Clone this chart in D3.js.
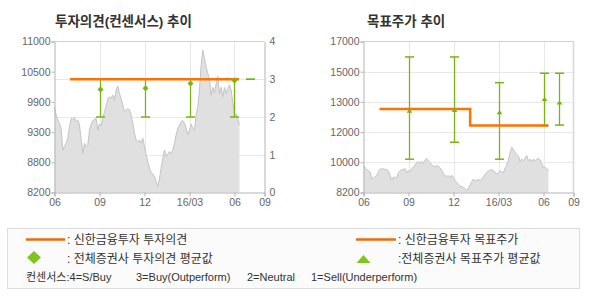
<!DOCTYPE html>
<html>
<head>
<meta charset="utf-8">
<script src="https://cdn.jsdelivr.net/npm/d3@7"></script>
<style>
  html, body { margin: 0; padding: 0; background: #fff; }
  svg { display: block; }
  text { font-family: "Liberation Sans", "Noto Sans CJK KR", sans-serif; }
</style>
</head>
<body>
<svg id="chart" width="590" height="300"></svg>
<script>
// ---------------- DATA ----------------
// x positions are expressed in months since 2015-06
const xTickValues = [0, 3, 6, 9, 12, 14];
const xTickLabels = ["06", "09", "12", "16/03", "06", "09"];

const leftPriceTicks = [8200, 8760, 9320, 9880, 10440, 11000];
const leftPriceLabels = ["8200", "8800", "9300", "9900", "10500", "11000"];
const opinionTicks = [0, 1, 2, 3, 4];
const opinionLabels = ["0", "1", "2", "3", "4"];

const rightPriceTicks = [8200, 9960, 11720, 13480, 15240, 17000];
const rightPriceLabels = ["8200", "10000", "12000", "13000", "15000", "17000"];

// daily-ish closing price (sampled evenly from month 0 to priceEndMonth)
const priceEndMonth = 12.33;
const prices = [
  9780, 9640, 9544, 9483, 9390, 8989, 9051, 9113, 9205, 9421,
  9575, 9557, 9594, 9514, 9544, 9452, 9174, 8928, 9113, 9051,
  9082, 9359, 9470, 9532, 9557, 9575, 9359, 9470, 9433, 9575,
  9699, 9803, 9945, 9976, 9945, 10007, 9914, 10099, 10173, 10038,
  9945, 9822, 9699, 9729, 9760, 9729, 9637, 9483, 9298, 9174,
  9144, 9174, 9113, 9205, 9051, 8897, 8774, 8650, 8558, 8545,
  8496, 8404, 8311, 8465, 8650, 8835, 8989, 8866, 8915, 8959,
  8915, 8989, 9113, 9267, 9390, 9452, 9514, 9532, 9483, 9390,
  9267, 9359, 9470, 9390, 9359, 9637, 9791, 10099, 10562, 10839,
  10685, 10531, 10408, 10315, 10007, 10149, 10050, 10210, 10358, 10038,
  10149, 9976, 10149, 10038, 10130, 10192, 10099, 9884, 9637, 9655,
  9575, 9452
];

// 신한금융투자 투자의견 (step line)
const shinhanOpinionMonths = [1.04, 12.29];
const shinhanOpinionValues = [3, 3];

// 신한금융투자 목표주가 (step line)
const shinhanTargetMonths = [1.07, 7.11, 12.29];
const shinhanTargetValues = [13060, 12100, 12100];

// 전체증권사 consensus
const consensusMonths = [3, 6, 9, 12, 13];
const opinionMin = [2, 2, 2, 2, 3];
const opinionMax = [3, 3, 3, 3, 3];
const opinionAvg = [2.73, 2.76, 2.89, 2.97, null];

const targetMin = [10140, 11130, 10140, 12100, 12130];
const targetMax = [16100, 16100, 14600, 15150, 15150];
const targetAvg = [12970, 13010, 12870, 13650, 13450];

// ---------------- STYLE ----------------
const ORANGE = "#ff7200";
const ORANGE_LEG = "#ec6c0c";
const GREEN = "#78b414";
const GREEN_LEG = "#80c41c";
const GRID = "#e8e8e8";
const AXIS = "#b4b4b4";
const LABEL = "#666";

const svg = d3.select("#chart");

// marker path builders (shapes only, positions come from scales)
function diamondPath(w, h) {
  return d3.line()([[0, -h / 2], [w / 2, 0], [0, h / 2], [-w / 2, 0]]) + "Z";
}
function trianglePath(w, h) {
  return d3.line()([[0, -h / 2], [w / 2, h / 2], [-w / 2, h / 2]]) + "Z";
}

function drawPanel(cfg) {
  const { x0, x1, y0, y1 } = cfg;
  const g = svg.append("g");
  const x = d3.scaleLinear().domain([0, 14]).range([x0, x1]);
  const yP = d3.scaleLinear().domain([cfg.priceTicks[0], cfg.priceTicks[cfg.priceTicks.length - 1]]).range([y1, y0]);

  // vertical gridlines
  g.append("g").selectAll("line")
    .data(xTickValues.filter(v => v > 0 && v < 14))
    .join("line")
    .attr("x1", d => Math.round(x(d)) + 0.5).attr("x2", d => Math.round(x(d)) + 0.5)
    .attr("y1", y0).attr("y2", y1)
    .attr("stroke", GRID).attr("stroke-width", 1);

  // horizontal gridlines
  g.append("g").selectAll("line")
    .data(cfg.gridValues)
    .join("line")
    .attr("x1", x0).attr("x2", x1)
    .attr("y1", d => Math.round(cfg.gridScale(d)) + 0.5).attr("y2", d => Math.round(cfg.gridScale(d)) + 0.5)
    .attr("stroke", GRID).attr("stroke-width", 1);

  // price area
  const idx = d3.scaleLinear().domain([0, prices.length - 1]).range([0, priceEndMonth]);
  const area = d3.area()
    .x((d, i) => x(idx(i)))
    .y0(y1)
    .y1(d => yP(d));
  const line = d3.line()
    .x((d, i) => x(idx(i)))
    .y(d => yP(d));
  g.append("path").datum(prices).attr("d", area).attr("fill", "#e0e0e0");
  g.append("path").datum(prices).attr("d", line).attr("fill", "none").attr("stroke", "#c4c4c4").attr("stroke-width", 1);

  // top border
  g.append("line").attr("x1", x0).attr("x2", x1).attr("y1", y0).attr("y2", y0)
    .attr("stroke", "#d0d0d0");

  // axes
  const xAxis = d3.axisBottom(x).tickValues(xTickValues)
    .tickFormat((d, i) => xTickLabels[i]).tickSize(4).tickPadding(2);
  const gx = g.append("g").attr("transform", `translate(0,${y1})`).call(xAxis);
  const yAxisL = d3.axisLeft(yP).tickValues(cfg.priceTicks)
    .tickFormat((d, i) => cfg.priceLabels[i]).tickSize(3).tickPadding(1);
  const gyl = g.append("g").attr("transform", `translate(${x0},0)`).call(yAxisL);
  const axes = [gx, gyl];
  if (cfg.rightAxis) {
    const gyr = g.append("g").attr("transform", `translate(${x1},0)`)
      .call(d3.axisRight(cfg.gridScale).tickValues(opinionTicks)
        .tickFormat((d, i) => opinionLabels[i]).tickSize(0).tickPadding(5));
    axes.push(gyr);
  } else {
    g.append("line").attr("x1", x1).attr("x2", x1).attr("y1", y0).attr("y2", y1)
      .attr("stroke", "#d8d8d8").attr("stroke-width", 1.5);
  }
  axes.forEach(a => {
    a.select(".domain").attr("stroke", AXIS);
    a.selectAll(".tick line").attr("stroke", AXIS);
    a.selectAll("text").attr("fill", LABEL).attr("font-size", "10.5px")
      .attr("font-family", "Liberation Sans, sans-serif");
  });

  // consensus error bars
  const ys = cfg.consScale;
  const bars = g.append("g");
  consensusMonths.forEach((m, i) => {
    const cx = Math.round(x(m)) + 0.5;
    const lo = ys(cfg.cMin[i]), hi = ys(cfg.cMax[i]);
    bars.append("line").attr("x1", cx).attr("x2", cx).attr("y1", hi).attr("y2", lo)
      .attr("stroke", GREEN).attr("stroke-width", 1.3);
    [lo, hi].forEach(yy => bars.append("line")
      .attr("x1", cx - 4.5).attr("x2", cx + 4.5).attr("y1", yy).attr("y2", yy)
      .attr("stroke", GREEN).attr("stroke-width", 1.5));
  });

  // shinhan step line
  const step = d3.line().curve(d3.curveStepAfter)
    .x(d => x(d[0])).y(d => ys(d[1]));
  g.append("path")
    .datum(cfg.sMonths.map((m, i) => [m, cfg.sValues[i]]))
    .attr("d", step).attr("fill", "none")
    .attr("stroke", ORANGE).attr("stroke-width", 2.5);

  // average markers
  consensusMonths.forEach((m, i) => {
    if (cfg.cAvg[i] == null) return;
    const cx = Math.round(x(m)) + 0.5;
    g.append("path")
      .attr("d", cfg.marker)
      .attr("transform", `translate(${cx},${ys(cfg.cAvg[i])})`)
      .attr("fill", GREEN);
  });
  return g;
}

// left panel: 투자의견
const opScale = d3.scaleLinear().domain([0, 4]).range([192.5, 41.5]);
drawPanel({
  x0: 54.5, x1: 264.5, y0: 41.5, y1: 192.5,
  priceTicks: leftPriceTicks, priceLabels: leftPriceLabels,
  gridScale: opScale, gridValues: [1, 2, 3],
  rightAxis: true,
  consScale: opScale,
  cMin: opinionMin, cMax: opinionMax, cAvg: opinionAvg,
  sMonths: shinhanOpinionMonths, sValues: shinhanOpinionValues,
  marker: diamondPath(6, 6)
});

// right panel: 목표주가
const tpScale = d3.scaleLinear().domain([8200, 17000]).range([192.5, 41.5]);
drawPanel({
  x0: 363.5, x1: 573.5, y0: 41.5, y1: 192.5,
  priceTicks: rightPriceTicks, priceLabels: rightPriceLabels,
  gridScale: tpScale, gridValues: rightPriceTicks.slice(1, -1),
  rightAxis: false,
  consScale: tpScale,
  cMin: targetMin, cMax: targetMax, cAvg: targetAvg,
  sMonths: shinhanTargetMonths, sValues: shinhanTargetValues,
  marker: trianglePath(6, 4)
});

// titles
svg.append("text").attr("x", 55).attr("y", 25.5)
  .attr("font-family", "Noto Sans CJK KR").attr("font-weight", "bold")
  .attr("font-size", "13.5px").attr("fill", "#333")
  .text("투자의견(컨센서스) 추이");
svg.append("text").attr("x", 367).attr("y", 25.5)
  .attr("font-family", "Noto Sans CJK KR").attr("font-weight", "bold")
  .attr("font-size", "13.5px").attr("fill", "#333")
  .text("목표주가 추이");

// ---------------- LEGEND ----------------
const leg = svg.append("g");
leg.append("rect").attr("x", 7.5).attr("y", 228.5).attr("width", 572).attr("height", 60)
  .attr("fill", "#fbfbfb").attr("stroke", "#dcdcdc");

const legendText = (x, y, t) => leg.append("text").attr("x", x).attr("y", y)
  .attr("font-family", "Noto Sans CJK KR").attr("font-size", "12px")
  .attr("fill", "#333").attr("xml:space", "preserve").style("white-space", "pre").text(t);

leg.append("line").attr("x1", 26).attr("x2", 65).attr("y1", 239.5).attr("y2", 239.5)
  .attr("stroke", ORANGE_LEG).attr("stroke-width", 2.5);
legendText(67, 244, ": 신한금융투자 투자의견");
leg.append("line").attr("x1", 356).attr("x2", 396).attr("y1", 239.5).attr("y2", 239.5)
  .attr("stroke", ORANGE_LEG).attr("stroke-width", 2.5);
legendText(398, 244, ": 신한금융투자 목표주가");

leg.append("path").attr("d", diamondPath(14, 13))
  .attr("transform", "translate(34,257.5)").attr("fill", GREEN_LEG);
legendText(67, 263, ": 전체증권사 투자의견 평균값");
leg.append("path").attr("d", trianglePath(14, 8))
  .attr("transform", "translate(363.5,259)").attr("fill", GREEN_LEG);
legendText(398, 263, ":전체증권사 목표주가 평균값");

const consensusLegend = [
  [26, "컨센서스:4=S/Buy"],
  [136, "3=Buy(Outperform)"],
  [247, "2=Neutral"],
  [311, "1=Sell(Underperform)"]
];
consensusLegend.forEach(([x, t]) => leg.append("text").attr("x", x).attr("y", 281)
  .attr("font-size", "11px").attr("fill", "#333")
  .attr("font-family", "Liberation Sans, Noto Sans CJK KR, sans-serif").text(t));
</script>
</body>
</html>
